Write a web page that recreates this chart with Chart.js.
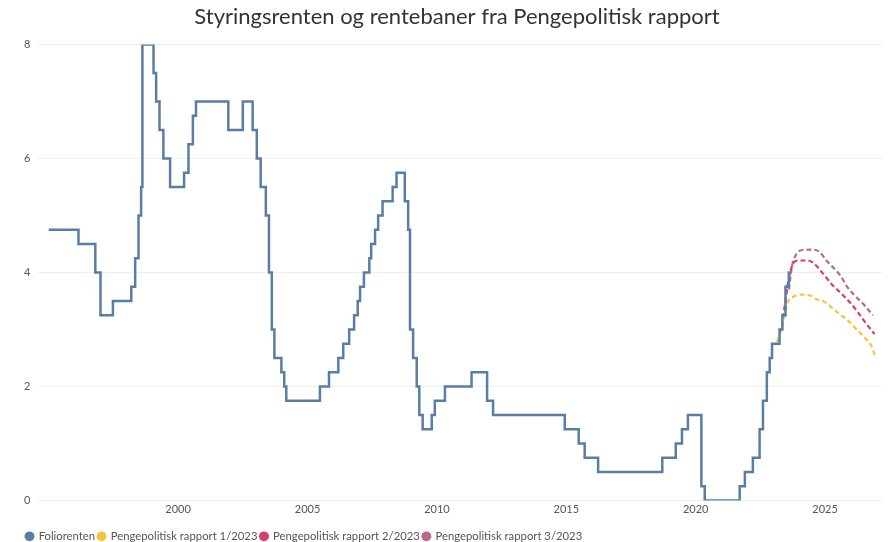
<!DOCTYPE html>
<html>
<head>
<meta charset="utf-8">
<script src="https://cdn.jsdelivr.net/npm/chart.js@4.4.1/dist/chart.umd.min.js"></script>
<style>
  html, body { margin: 0; padding: 0; background: #fff; }
  #wrap { width: 890px; height: 542px; }
</style>
</head>
<body>
<div id="wrap"><canvas id="mainChart"></canvas></div>
<script>
// Foliorenten: tidspunkt for endring (desimalår) og ny rente
const folioYears = [
  1995.0, 1996.15, 1996.80, 1997.00, 1997.48, 1998.19, 1998.34, 1998.47, 1998.57, 1998.62,
  1999.05, 1999.15, 1999.28, 1999.43, 1999.69, 2000.23, 2000.40, 2000.57, 2000.69, 2001.94,
  2002.50, 2002.88, 2003.04, 2003.19, 2003.39, 2003.51, 2003.62, 2003.72, 2003.99, 2004.10,
  2004.18, 2005.48, 2005.83, 2006.19, 2006.38, 2006.61, 2006.80, 2006.94, 2007.03, 2007.18,
  2007.39, 2007.46, 2007.61, 2007.73, 2007.90, 2008.29, 2008.44, 2008.76, 2008.89, 2008.96,
  2009.08, 2009.22, 2009.32, 2009.45, 2009.80, 2009.92, 2010.31, 2011.34, 2011.94, 2012.17,
  2014.94, 2015.48, 2015.71, 2016.23, 2018.71, 2019.23, 2019.47, 2019.70, 2020.22, 2020.35,
  2021.70, 2021.90, 2022.21, 2022.47, 2022.60, 2022.75, 2022.86, 2022.95, 2023.24, 2023.35,
  2023.47, 2023.60, 2023.66
];
const folioRates = [
  4.75, 4.5, 4.0, 3.25, 3.5, 3.75, 4.25, 5.0, 5.5, 8.0,
  7.5, 7.0, 6.5, 6.0, 5.5, 5.75, 6.25, 6.75, 7.0, 6.5,
  7.0, 6.5, 6.0, 5.5, 5.0, 4.0, 3.0, 2.5, 2.25, 2.0,
  1.75, 2.0, 2.25, 2.5, 2.75, 3.0, 3.25, 3.5, 3.75, 4.0,
  4.25, 4.5, 4.75, 5.0, 5.25, 5.5, 5.75, 5.25, 4.75, 3.0,
  2.5, 2.0, 1.5, 1.25, 1.5, 1.75, 2.0, 2.25, 1.75, 1.5,
  1.25, 1.0, 0.75, 0.5, 0.75, 1.0, 1.25, 1.5, 0.25, 0.0,
  0.25, 0.5, 0.75, 1.25, 1.75, 2.25, 2.5, 2.75, 3.0, 3.25,
  3.75, 4.0, 4.0
];

// PPR 1/2023
const ppr1Years = [2023.14, 2023.31, 2023.44, 2023.56, 2023.76, 2024.02, 2024.40, 2024.66, 2024.92,
  2025.24, 2025.56, 2025.88, 2026.20, 2026.52, 2026.78, 2026.95];
const ppr1Rates = [2.78, 3.0, 3.25, 3.48, 3.57, 3.61, 3.6, 3.53, 3.5,
  3.39, 3.27, 3.16, 3.01, 2.86, 2.72, 2.51];

// PPR 2/2023
const ppr2Years = [2023.37, 2023.47, 2023.58, 2023.68, 2023.76, 2023.95, 2024.34, 2024.59, 2024.92,
  2025.30, 2025.63, 2025.95, 2026.27, 2026.59, 2026.91];
const ppr2Rates = [3.2, 3.5, 3.85, 4.05, 4.15, 4.21, 4.21, 4.15, 3.98,
  3.77, 3.63, 3.48, 3.3, 3.1, 2.92];

// PPR 3/2023
const ppr3Years = [2023.60, 2023.72, 2023.83, 2024.08, 2024.53, 2024.79, 2025.05, 2025.37, 2025.63,
  2025.82, 2026.14, 2026.53, 2026.85];
const ppr3Rates = [3.7, 4.1, 4.27, 4.39, 4.4, 4.36, 4.21, 4.06, 3.92,
  3.77, 3.6, 3.42, 3.25];

const tickYears = [2000, 2005, 2010, 2015, 2020, 2025];
const yTicks = [0, 2, 4, 6, 8];

const toPoints = (xs, ys) => xs.map((x, i) => ({ x, y: ys[i] }));

const ctx = document.getElementById("mainChart").getContext("2d");

const forecast = (label, xs, ys, color) => ({
  label,
  data: toPoints(xs, ys),
  borderColor: color,
  backgroundColor: color,
  borderWidth: 2.2,
  borderDash: [5, 3],
  pointRadius: 0,
  cubicInterpolationMode: "monotone"
});

// flytt tittel og legende litt til høyre, som i originalen
const nudge = {
  id: "nudge",
  afterLayout(chart) {
    chart.legend.left += 7;
    chart.legend.right += 7;
    chart.titleBlock.left += 8;
    chart.titleBlock.right += 8;
  }
};

new Chart(ctx, {
  type: "line",
  data: {
    datasets: [
      {
        label: "Foliorenten",
        data: toPoints(folioYears, folioRates),
        borderColor: "#5a7ea3",
        backgroundColor: "#5a7ea3",
        borderWidth: 2.5,
        pointRadius: 0,
        stepped: true
      },
      forecast("Pengepolitisk rapport 1/2023", ppr1Years, ppr1Rates, "#f4c545"),
      forecast("Pengepolitisk rapport 2/2023", ppr2Years, ppr2Rates, "#dc3a68"),
      forecast("Pengepolitisk rapport 3/2023", ppr3Years, ppr3Rates, "#b76a8c")
    ]
  },
  plugins: [nudge],
  options: {
    responsive: true,
    maintainAspectRatio: false,
    animation: false,
    layout: { padding: { left: 16, right: 8, top: 4, bottom: -10 } },
    plugins: {
      title: {
        display: true,
        text: "Styringsrenten og rentebaner fra Pengepolitisk rapport",
        color: "#333",
        font: { family: "Lato", size: 22, weight: "normal" },
        padding: { top: 0, bottom: 14 }
      },
      legend: {
        position: "bottom",
        align: "start",
        labels: {
          usePointStyle: true,
          pointStyle: "circle",
          boxWidth: 7,
          boxHeight: 7,
          padding: 3,
          color: "#555",
          font: { family: "Lato", size: 11.3 },
          generateLabels: (chart) =>
            Chart.defaults.plugins.legend.labels.generateLabels(chart).map(item => ({
              ...item, lineWidth: 0, lineDash: []
            }))
        }
      },
      tooltip: { enabled: false }
    },
    scales: {
      x: {
        type: "linear",
        min: 1994.6,
        max: 2027.2,
        grid: { display: false, drawTicks: false, tickLength: 0 },
        border: { display: false },
        afterBuildTicks: (axis) => { axis.ticks = tickYears.map(v => ({ value: v })); },
        afterFit: (axis) => { axis.height += 10; },
        ticks: {
          color: "#555",
          padding: 2,
          font: { family: "Lato", size: 11 },
          maxRotation: 0,
          callback: (v) => String(v)
        }
      },
      y: {
        min: 0,
        max: 8,
        border: { display: false },
        grid: { color: "#eeeeee", drawTicks: false },
        afterBuildTicks: (axis) => { axis.ticks = yTicks.map(v => ({ value: v })); },
        ticks: {
          color: "#555",
          padding: 8,
          font: { family: "Lato", size: 11 }
        }
      }
    }
  }
});
</script>
</body>
</html>
